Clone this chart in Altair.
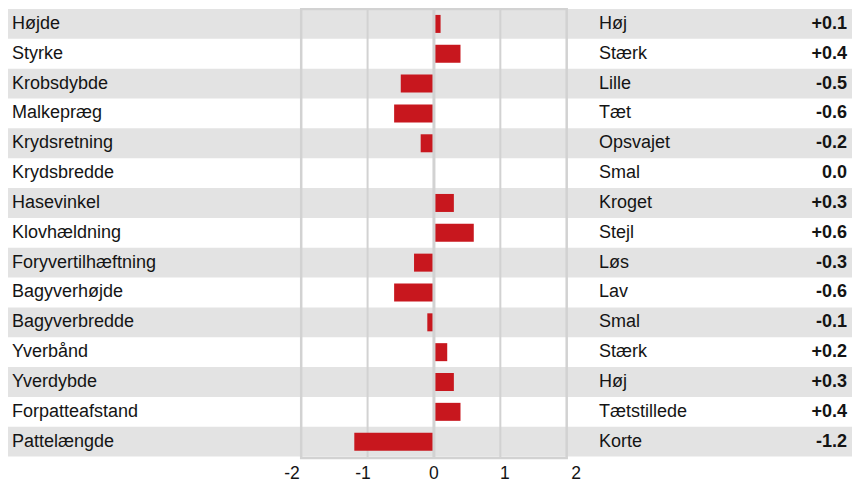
import altair as alt
import pandas as pd

traits = ["Højde", "Styrke", "Krobsdybde", "Malkepræg", "Krydsretning", "Krydsbredde",
          "Hasevinkel", "Klovhældning", "Foryvertilhæftning", "Bagyverhøjde", "Bagyverbredde",
          "Yverbånd", "Yverdybde", "Forpatteafstand", "Pattelængde"]
descriptors = ["Høj", "Stærk", "Lille", "Tæt", "Opsvajet", "Smal", "Kroget", "Stejl", "Løs",
               "Lav", "Smal", "Stærk", "Høj", "Tætstillede", "Korte"]
values = [0.1, 0.4, -0.5, -0.6, -0.2, 0.0, 0.3, 0.6, -0.3, -0.6, -0.1, 0.2, 0.3, 0.4, -1.2]
ticks = [-2, -1, 0, 1, 2]
tick_labels = ["-2", "-1", "0", "1", "2"]
inner_grid = [-1, 1]

def fmt(v):
    return "0.0" if v == 0 else f"{v:+.1f}"

df = pd.DataFrame({
    "trait": traits,
    "desc": descriptors,
    "value": values,
    "label": [fmt(v) for v in values],
    "shade": [i % 2 == 0 for i in range(len(traits))],
})

TOP = 3
W, H = 844, 447
px_per_unit = 66.375
xmin = -2 - 293.2 / px_per_unit
xmax = xmin + W / px_per_unit

FONT = "Liberation Sans"
TXT = "#141414"
GRID = "#d2d2d2"

xscale = alt.Scale(domain=[xmin, xmax], nice=False, zero=False)
yscale = alt.Scale(domain=traits, paddingInner=0, paddingOuter=0, range=[-2, 445.6])
Y = alt.Y("trait:N", scale=yscale, axis=None, sort=traits)

base = alt.Chart(df)

bands = base.transform_filter("datum.shade").mark_rect(color="#e3e3e3").encode(
    y=Y, x=alt.value(0), x2=alt.value(W)
)

frame_df = pd.DataFrame({"a": [ticks[0]], "b": [ticks[-1]]})
frame = alt.Chart(frame_df).mark_rect(fill=None, stroke=GRID, strokeWidth=2.5).encode(
    x=alt.X("a:Q", scale=xscale, axis=None),
    x2="b:Q",
    y=alt.value(-2), y2=alt.value(H),
)

grid = alt.Chart(pd.DataFrame({"g": inner_grid})).mark_rule(color=GRID, strokeWidth=2).encode(
    x=alt.X("g:Q", scale=xscale), y=alt.value(-2), y2=alt.value(H)
)

bars = base.mark_bar(color="#c8171e", size=18).encode(
    y=Y, x=alt.X("value:Q", scale=xscale), x2=alt.datum(0)
)

zero = alt.Chart(pd.DataFrame({"z": [0]})).mark_rule(color=GRID, strokeWidth=3).encode(
    x=alt.X("z:Q", scale=xscale), y=alt.value(-2), y2=alt.value(H)
)

# tick labels (spread slightly wider than the grid, as in the reference)
tick_df = pd.DataFrame({"t": ticks, "lab": tick_labels})
tick_text = alt.Chart(tick_df).transform_calculate(pos="datum.t * 1.07").mark_text(
    align="center", baseline="middle", font=FONT, fontSize=17.5, color=TXT
).encode(x=alt.X("pos:Q", scale=xscale), y=alt.value(H + 16), text="lab:N")

left = base.mark_text(align="left", baseline="middle", font=FONT, fontSize=18,
                      color=TXT).encode(y=Y, x=alt.value(4), text="trait:N")
right = base.mark_text(align="left", baseline="middle", font=FONT, fontSize=18,
                       color=TXT).encode(y=Y, x=alt.value(591), text="desc:N")
vals = base.mark_text(align="right", baseline="middle", font=FONT, fontSize=18,
                      fontWeight="bold", color=TXT).encode(y=Y, x=alt.value(839), text="label:N")

chart = alt.layer(bands, frame, grid, bars, zero, tick_text, left, right, vals).properties(
    width=W, height=H,
    padding={"left": 0, "right": 0, "top": TOP, "bottom": 30},
    autosize=alt.AutoSizeParams(type="none"),
).configure_view(stroke=None)

chart.save("out.html", embed_options={"renderer": "svg", "actions": False})
